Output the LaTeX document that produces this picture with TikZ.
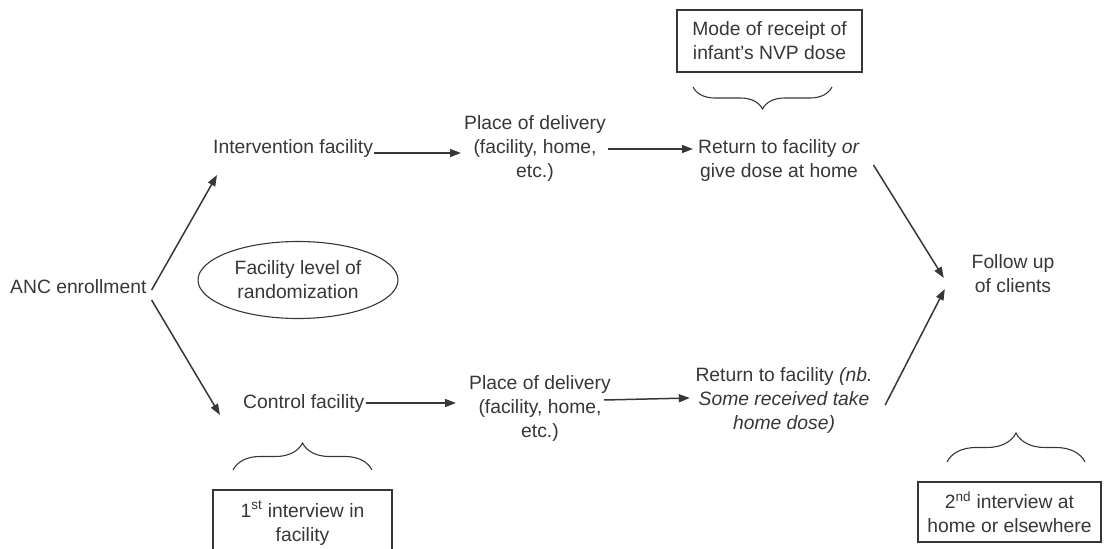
\documentclass[tikz,border=0pt]{standalone}
\usepackage{fontspec}
\setmainfont{Liberation Sans}
\usetikzlibrary{arrows.meta,shapes.geometric,decorations.pathreplacing}
\definecolor{ink}{RGB}{55,55,55}
\begin{document}
\begin{tikzpicture}[x=1pt,y=-1pt,
  every node/.style={font=\fontsize{19.3}{24}\selectfont, text=ink, inner sep=0pt},
  lbl/.style={align=center, anchor=base},
  boxed/.style={draw=ink, line width=1.1pt, align=center},
  arr/.style={draw=ink, line width=1.5pt, -{Triangle[length=11pt,width=8pt]}},
  brc/.style={draw=ink, line width=1.1pt, decorate, decoration={brace, amplitude=#1}}
]
\useasboundingbox (0,0) rectangle (1104,549);

\node[anchor=base west] (anc) at (10,293) {ANC enrollment};
\node[anchor=base west] (int) at (213,153) {Intervention facility};
\node[anchor=base west] (ctl) at (243,408) {Control facility};
\node[lbl] (pod1) at (535,177) {Place of delivery\\(facility, home,\\etc.)};
\node[lbl] (pod2) at (540,437) {Place of delivery\\(facility, home,\\etc.)};
\node[lbl] (ret1) at (779,177) {Return to facility \textit{or}\\give dose at home};
\node[lbl] (ret2) at (784,429) {Return to facility \textit{(nb.}\\\textit{Some received take}\\\textit{home dose)}};
\node[lbl] (fu) at (1013,292) {Follow up\\of clients};
\node[draw=ink, line width=1.1pt, ellipse, minimum width=200pt, minimum height=77pt, align=center] (ell) at (298,280) {Facility level of\\randomization};
\node[boxed, minimum width=185pt, minimum height=62pt] (mode) at (769.5,41) {Mode of receipt of\\infant's NVP dose};
\node[boxed, minimum width=179pt, minimum height=66pt] (iv1) at (302.5,523) {1\textsuperscript{st} interview in\\facility};
\node[boxed, minimum width=183pt, minimum height=60pt] (iv2) at (1009.5,512) {2\textsuperscript{nd} interview at\\home or elsewhere};

\draw[arr] ([shift={(5,-3)}]anc.base east) -- ([shift={(4,22)}]int.base west);
\draw[arr] ([shift={(5,7)}]anc.base east) -- ([shift={(-23,7)}]ctl.base west);
\draw[arr] ([shift={(1,0)}]int.base east) -- ([shift={(-3,-24)}]pod1.base west);
\draw[arr] ([shift={(2,-28)}]pod1.base east) -- ([shift={(-5,-28)}]ret1.base west);
\draw[arr] ([shift={(1,-5)}]ctl.base east) -- ([shift={(-13,-34)}]pod2.base west);
\draw[arr] ([shift={(-7,-37)}]pod2.base east) -- ([shift={(-5.5,-31)}]ret2.base west);
\draw[arr] ([shift={(13.5,-12)}]ret1.base east) -- ([shift={(-27.7,-14)}]fu.base west);
\draw[arr] ([shift={(12.5,-24)}]ret2.base east) -- ([shift={(-26.7,-3)}]fu.base west);

\draw[brc=22pt] (832,87) -- (693,87);
\draw[brc=27pt] (233,470) -- (372,470);
\draw[brc=29pt] (947,462) -- (1085,462);
\end{tikzpicture}
\end{document}
